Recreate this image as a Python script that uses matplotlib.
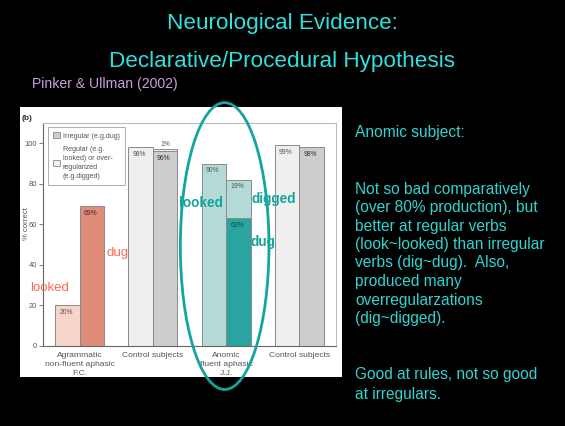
import matplotlib
matplotlib.use("Agg")
import matplotlib.pyplot as plt
from matplotlib.patches import Rectangle, Ellipse, Patch
from matplotlib.transforms import Bbox, TransformedBbox

plt.rcParams['font.family'] = ['Liberation Sans', 'DejaVu Sans']

# ---------------- data ----------------
groups = ["Agrammatic\nnon-fluent aphasic\nF.C.", "Control subjects",
          "Anomic\nfluent aphasic\nJ.J.", "Control subjects"]
regular = [20, 98, 90, 99]          # looked (regular verbs)
irregular = [69, 96, 63, 98]        # dug (irregular correct)
overreg = [0, 1, 19, 0]             # digged (over-regularized)
yticks = [0, 20, 40, 60, 80, 100]

reg_colors = ['#f6d4c7', '#efefef', '#b4dad7', '#efefef']
irr_colors = ['#e08c78', '#cdcdcd', '#2aa49e', '#cdcdcd']
ovr_colors = ['#f6d4c7', '#efefef', '#b4dad7', '#efefef']

W, H = 565, 426
fig = plt.figure(figsize=(W / 100, H / 100), dpi=100)
fig.patch.set_facecolor('black')

def fx(x):
    return x / W

def fy(y):
    return 1 - y / H

# white panel
fig.patches.append(Rectangle((fx(20), fy(377)), (342 - 20) / W, (377 - 107) / H,
                             transform=fig.transFigure, facecolor='white',
                             edgecolor='none', zorder=-5))

ax = fig.add_axes([fx(43), fy(346), (336 - 43) / W, (346 - 123) / H])
ax.set_facecolor('white')
ax.set_xlim(-0.5, 3.5)
ax.set_ylim(0, 110)

bw = 0.335
pfs = 4.9
xs = list(range(len(groups)))
for i in xs:
    xr = i - bw / 2
    xi = i + bw / 2
    ax.bar(xr, regular[i], width=bw, color=reg_colors[i], edgecolor='#8a8a8a', linewidth=0.7, zorder=2)
    ax.bar(xi, irregular[i], width=bw, color=irr_colors[i], edgecolor='#8a8a8a', linewidth=0.7, zorder=2)
    if overreg[i] > 0:
        ax.bar(xi, overreg[i], bottom=irregular[i], width=bw, color=ovr_colors[i],
               edgecolor='#8a8a8a', linewidth=0.7, zorder=2)
    # percent labels
    ax.annotate(f"{regular[i]}%", (xr, regular[i]), xytext=(-1, -2.5), textcoords='offset points',
                ha='center', va='top', fontsize=pfs, color='#555555', zorder=3)
    ax.annotate(f"{irregular[i]}%", (xi, irregular[i]), xytext=(-1, -2.5), textcoords='offset points',
                ha='center', va='top', fontsize=pfs, color='#333333' if i != 2 else '#0c4f4a', zorder=3)
    if overreg[i] > 0:
        top = irregular[i] + overreg[i]
        if overreg[i] >= 5:
            ax.annotate(f"{overreg[i]}%", (xi, top), xytext=(-1, -2.5), textcoords='offset points',
                        ha='center', va='top', fontsize=pfs, color='#555555', zorder=3)
        else:
            ax.annotate(f"{overreg[i]}%", (xi, top), xytext=(0, 1), textcoords='offset points',
                        ha='center', va='bottom', fontsize=pfs, color='#555555', zorder=3)

# axes styling
for s in ['left', 'bottom']:
    ax.spines[s].set_color('#666666')
    ax.spines[s].set_linewidth(0.8)
for s in ['top', 'right']:
    ax.spines[s].set_color('#bbbbbb')
    ax.spines[s].set_linewidth(0.8)
ax.set_yticks(yticks)
ax.set_yticklabels([str(v) for v in yticks])
ax.tick_params(axis='y', length=3, width=0.6, color='#666666', labelsize=5.4,
               labelcolor='#555555', pad=1.5)
ax.set_xticks([])

# category labels (clipped at the bottom of the white panel)
clipbox = TransformedBbox(Bbox.from_extents(fx(20), fy(377), fx(342), fy(107)), fig.transFigure)
for i, g in zip(xs, groups):
    t = ax.text(i, -0.026, g, transform=ax.get_xaxis_transform(), ha='center', va='top',
                fontsize=6.1, color='#555555', linespacing=1.38)
    t.set_clip_box(clipbox)
    t.set_clip_on(True)

ax.set_ylabel('% correct', fontsize=5.6, color='#555555')
ax.yaxis.set_label_coords(-0.045, 0.55)

# legend
handles = [Patch(facecolor='#cdcdcd', edgecolor='#8a8a8a', linewidth=0.6),
           Patch(facecolor='#f2f2f2', edgecolor='#8a8a8a', linewidth=0.6)]
labels = ['Irregular (e.g.dug)', 'Regular (e.g.\nlooked) or over-\nregularized\n(e.g.digged)']
leg = ax.legend(handles, labels, loc='upper left', bbox_to_anchor=(0.017, 0.982),
                fontsize=5.1, frameon=True, fancybox=False, handlelength=1.0,
                handleheight=1.0, handletextpad=0.4, borderpad=0.7, labelspacing=0.9,
                borderaxespad=0)
leg.get_frame().set_edgecolor('#999999')
leg.get_frame().set_linewidth(0.7)
for t in leg.get_texts():
    t.set_color('#555555')
    t.set_linespacing(1.4)

# word annotations
ax.text(-0.41, 28.5, 'looked', color='#ff6a50', fontsize=9.5, ha='center', va='center', zorder=4)
ax.text(0.52, 46, 'dug', color='#ff6a50', fontsize=9.5, ha='center', va='center', zorder=4)
ax.text(1.65, 70.5, 'looked', color='#15a39c', fontsize=9.8, fontweight='bold', ha='center', va='center', zorder=4)
ax.text(2.65, 72.5, 'digged', color='#15a39c', fontsize=9.8, fontweight='bold', ha='center', va='center', zorder=4)
ax.text(2.5, 51.5, 'dug', color='#15a39c', fontsize=9.8, fontweight='bold', ha='center', va='center', zorder=4)

# highlight ellipse around the anomic group
ax.add_patch(Ellipse((1.98, 49.3), 1.21, 141.5, fill=False, edgecolor='#13a59e',
                     linewidth=2.0, clip_on=False, zorder=10))

# (b) label
fig.text(fx(22), fy(119), '(b)', fontsize=6, fontweight='bold', color='#333333', va='center')

# titles
tcol = '#2fe0dc'
fig.text(0.5, fy(29.5), 'Neurological Evidence:', color=tcol, fontsize=16.2, ha='center', va='baseline')
fig.text(0.5, fy(66.5), 'Declarative/Procedural Hypothesis', color=tcol, fontsize=16.2, ha='center', va='baseline')
fig.text(fx(32), fy(88), 'Pinker & Ullman (2002)', color='#c9a0dc', fontsize=10.1, ha='left', va='baseline')

# right side notes
rcol = '#2fd4d0'
notes = [(132, 'Anomic subject:'),
         (189, 'Not so bad comparatively'),
         (207.5, '(over 80% production), but'),
         (226, 'better at regular verbs'),
         (244.5, '(look~looked) than irregular'),
         (263, 'verbs (dig~dug).  Also,'),
         (281.5, 'produced many'),
         (300, 'overregularzations'),
         (318.5, '(dig~digged).'),
         (375, 'Good at rules, not so good'),
         (394, 'at irregulars.')]
for yy, s in notes:
    fig.text(fx(355), fy(yy), s, color=rcol, fontsize=11.2, ha='left', va='center')

fig.savefig('out.png', dpi=100, facecolor='black')
